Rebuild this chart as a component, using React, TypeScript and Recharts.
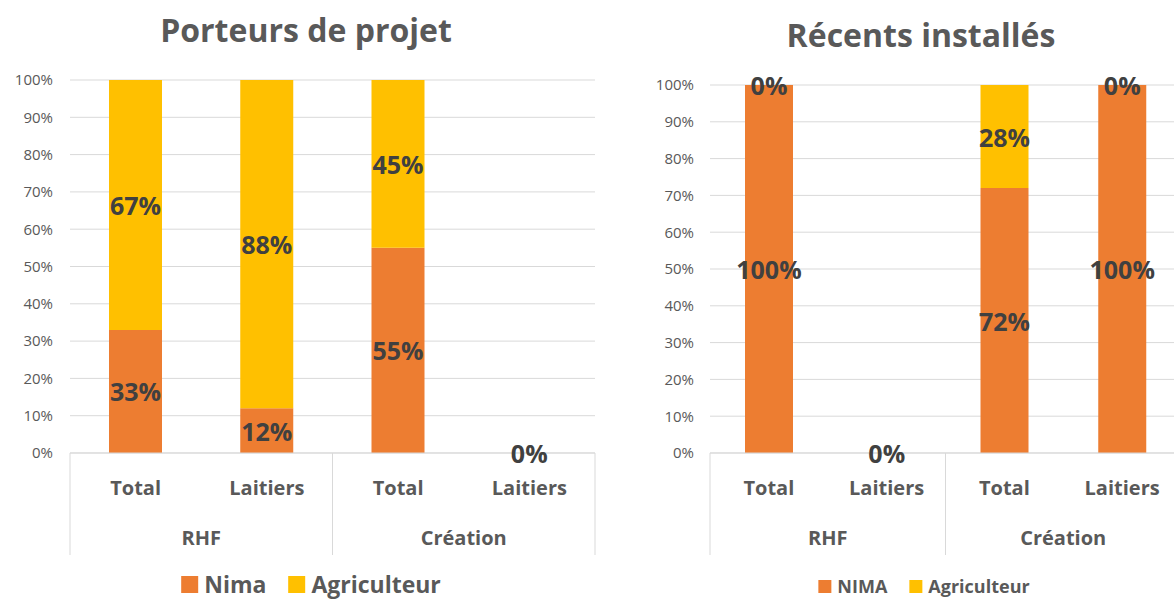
import React from 'react';
import { BarChart, Bar, XAxis, YAxis, CartesianGrid } from 'recharts';

// categories & groups (two-level x axis)
const categories = ['Total', 'Laitiers', 'Total', 'Laitiers'];
const groups = ['RHF', 'RHF', 'Création', 'Création'];

// Porteurs de projet (%)
const porteursNima = [33, 12, 55, 0];
const porteursAgri = [67, 88, 45, 0];

// Récents installés (%)
const recentsNima = [100, 0, 72, 100];
const recentsAgri = [0, 0, 28, 0];

const yTicks = [0, 10, 20, 30, 40, 50, 60, 70, 80, 90, 100];

const ORANGE = '#ED7D31';
const YELLOW = '#FFC000';
const GREY = '#595959';
const FONT = '"Open Sans", sans-serif';

const buildRows = (nima: number[], agri: number[]) =>
    categories.map((c, i) => ({ cat: c, group: groups[i], nima: nima[i], agri: agri[i] }));

const porteursRows = buildRows(porteursNima, porteursAgri);
const recentsRows = buildRows(recentsNima, recentsAgri);

const CatTick = (props: any) => {
    const { x, y, payload } = props;
    return (
        <text x={x} y={y + 34} textAnchor="middle" dominantBaseline="central"
            fontSize={20} fontWeight={700} fill={GREY} fontFamily={FONT}>
            {payload.value}
        </text>
    );
};

const GroupTick = (props: any) => {
    const { x, y, payload, index, width, visibleTicksCount } = props;
    const count = visibleTicksCount || 2;
    const half = width / count / 2;
    return (
        <g>
            <line x1={x - half} x2={x - half} y1={y - 50} y2={y + 52} stroke="#d9d9d9" />
            {index === count - 1 && (
                <line x1={x + half} x2={x + half} y1={y - 50} y2={y + 52} stroke="#d9d9d9" />
            )}
            <text x={x} y={y + 34} textAnchor="middle" dominantBaseline="central"
                fontSize={20} fontWeight={700} fill={GREY} fontFamily={FONT}>
                {payload.value}
            </text>
        </g>
    );
};

// data label in the middle of each segment (value taken from the row, not the stacked top)
const makeLabel = (rows: any[], series: 'nima' | 'agri') => (props: any) => {
    const { x, y, width, height, index } = props;
    const row = rows[index];
    if (!row) return null;
    // both zero: print a single 0%
    if (series === 'agri' && row.nima === 0 && row.agri === 0) return null;
    return (
        <text x={x + width / 2} y={y + height / 2} textAnchor="middle" dominantBaseline="central"
            fontSize={25} fontWeight={700} fill="#404040" fontFamily={FONT}>
            {row[series]}%
        </text>
    );
};

const Legend2 = ({ names, fontSize, box, left, top, lh }: any) => (
    <div style={{ position: 'absolute', left, top, height: lh, transform: 'translateX(-50%)', display: 'flex', alignItems: 'center', whiteSpace: 'nowrap', fontFamily: FONT, fontWeight: 700, fontSize, lineHeight: `${lh}px`, color: GREY }}>
        {names.map((n: string, i: number) => (
            <span key={n} style={{ display: 'flex', alignItems: 'center', marginLeft: i ? 22 : 0 }}>
                <span style={{ width: box, height: box, background: i ? YELLOW : ORANGE, marginRight: 6, display: 'inline-block' }} />
                <span>{n}</span>
            </span>
        ))}
    </div>
);

const Title = ({ text, left, top }: any) => (
    <div style={{ position: 'absolute', left, top, transform: 'translate(-50%, -50%)', whiteSpace: 'nowrap', fontFamily: FONT, fontWeight: 700, fontSize: 32, lineHeight: '44px', color: GREY }}>
        {text}
    </div>
);

const StackChart = ({ rows, width, margin, barSize, yMargin }: any) => (
    <BarChart width={width} height={599} data={rows} margin={margin}>
        <CartesianGrid vertical={false} stroke="#d9d9d9" />
        <YAxis domain={[0, 100]} ticks={yTicks} width={60} tickLine={false} axisLine={false}
            tickSize={0} tickMargin={yMargin} tickFormatter={(v: number) => `${v}%`}
            tick={{ fontSize: 15, fill: GREY, fontFamily: FONT }} />
        <XAxis dataKey="cat" height={50} tickLine={false} tickSize={0} tickMargin={0}
            axisLine={{ stroke: '#d9d9d9' }} tick={<CatTick />} interval={0} />
        <XAxis xAxisId="group" dataKey="group" height={55} allowDuplicatedCategory={false}
            tickLine={false} tickSize={0} tickMargin={0} axisLine={false} tick={<GroupTick />} interval={0} />
        <Bar dataKey="nima" stackId="a" fill={ORANGE} barSize={barSize} minPointSize={0.01}
            isAnimationActive={false} label={makeLabel(rows, 'nima')} />
        <Bar dataKey="agri" stackId="a" fill={YELLOW} barSize={barSize} minPointSize={0.01}
            isAnimationActive={false} label={makeLabel(rows, 'agri')} />
    </BarChart>
);

export default function App() {
    return (
        <div style={{ position: 'absolute', left: 0, top: 0, width: 1174, height: 599, background: '#fff', overflow: 'hidden' }}>
            <div style={{ position: 'absolute', left: 0, top: 0 }}>
                <StackChart rows={porteursRows} width={610} barSize={53} yMargin={17}
                    margin={{ top: 80, right: 15, bottom: 41, left: 10 }} />
            </div>
            <div style={{ position: 'absolute', left: 620, top: 0 }}>
                <StackChart rows={recentsRows} width={561} barSize={48} yMargin={16}
                    margin={{ top: 85, right: 0, bottom: 41, left: 30 }} />
            </div>
            <Title text="Porteurs de projet" left={306} top={30} />
            <Title text="Récents installés" left={921} top={35} />
            <Legend2 names={['Nima', 'Agriculteur']} fontSize={23} box={17} lh={28} left={311} top={570} />
            <Legend2 names={['NIMA', 'Agriculteur']} fontSize={18} box={13} lh={24} left={924} top={574} />
        </div>
    );
}
